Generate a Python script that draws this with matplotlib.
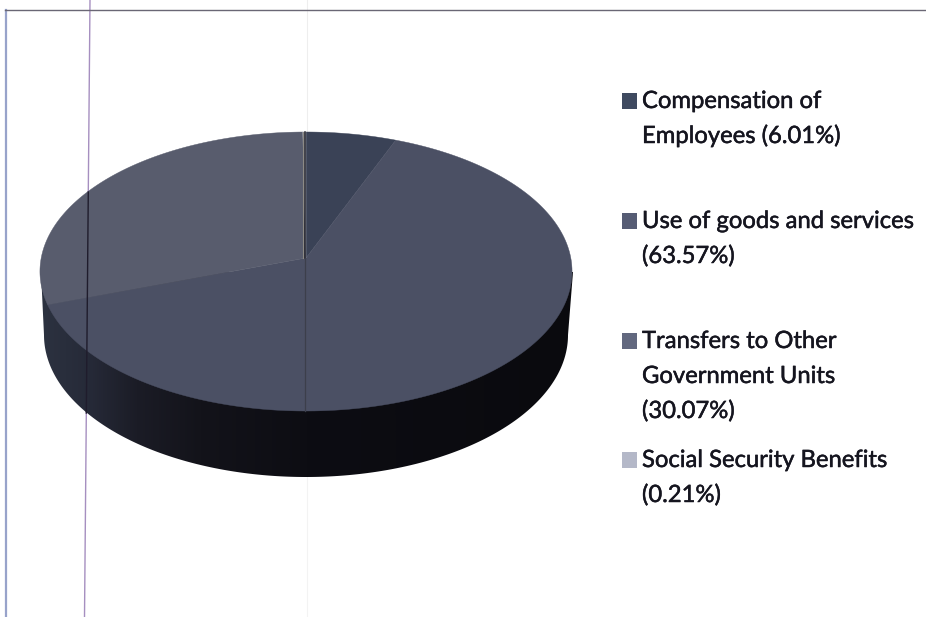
from matplotlib import pyplot as plt
import matplotlib.patches as patches
from matplotlib.colors import LinearSegmentedColormap
import matplotlib.patheffects as pe
import numpy as np

names = ["Compensation of\nEmployees", "Use of goods and services\n", "Transfers to Other\nGovernment Units\n", "Social Security Benefits\n"]
shares = [6.01, 63.57, 30.07, 0.21]
top_colors = ["#3a4256", "#4b5064", "#585c6d", "#a9adbb"]
legend_colors = ["#3f4a60", "#565c74", "#62687f", "#b4b8c8"]
legend_baselines = [108, 228, 348, 467]

plt.rcParams.update({'font.family': ['Lato', 'DejaVu Sans'], 'font.size': 17.15})

# pie geometry in pixels, tilted with a small perspective term
cx, cy = 306, 258
rx, ry = 264.8, 138.2
persp = 0.0968

# lower rim of the cylinder
low_cy = 335
low_rx, low_ry = 262, 142


def project(theta):
    # theta runs clockwise from twelve o'clock
    x = np.sin(theta)
    y = np.cos(theta)
    w = 1 + persp * y
    return cx + rx * x / w, cy - ry * y / w


def rule_x(y):
    # the long stray rule leans slightly to the left
    return 90 - 5.5 * y / 617


fig = plt.figure(figsize=(9.26, 6.17), dpi=100)
ax = fig.add_axes([0, 0, 1, 1])

edges = np.radians(np.concatenate([[0], np.cumsum(shares)]) / sum(shares) * 360)

# faint rules that sit behind the pie
ax.plot([90, 84.5], [0, 617], color="#a68fc0", linewidth=1.0, zorder=1)
ax.plot([307, 307], [0, 132], color="#eeeeee", linewidth=0.8, zorder=0)
ax.plot([307, 307], [477, 617], color="#f3f3f3", linewidth=0.8, zorder=0)

# rim, a horizontal gradient clipped to the cylinder wall
rim_cmap = LinearSegmentedColormap.from_list("rim", [
    (0.0, "#2c3240"), (0.09, "#262a38"), (0.18, "#1b1c26"),
    (0.3, "#13131a"), (0.5, "#0d0d13"), (1.0, "#0a0a0e")])
low_t = np.linspace(0, np.pi, 300)
low_x = cx + low_rx * np.cos(low_t)
low_y = low_cy + low_ry * np.sin(low_t)
wall = np.column_stack([np.r_[573, low_x, 41], np.r_[272, low_y, 272]])
wall_patch = patches.Polygon(wall, closed=True, transform=ax.transData, facecolor="none", edgecolor="none")
ax.add_patch(wall_patch)
im = ax.imshow(np.linspace(0, 1, 512).reshape(1, -1), extent=[41, 573, 480, 270],
               cmap=rim_cmap, aspect="auto", zorder=2)
im.set_clip_path(wall_patch)

# top faces
for i in range(len(shares)):
    ang = np.linspace(edges[i], edges[i + 1], 200)
    sx, sy = project(ang)
    pts = np.column_stack([np.r_[cx, sx], np.r_[cy, sy]])
    ax.add_patch(patches.Polygon(pts, closed=True, facecolor=top_colors[i], edgecolor=top_colors[i],
                                 linewidth=0.3, zorder=3))

# frame and the rules that show through the pie
ax.plot([6, 6], [10, 617], color="#98a3ca", linewidth=1.6, zorder=4)
ax.plot([5, 926], [9.5, 9.5], color="#6a6775", linewidth=1.0, zorder=4)
ax.plot([rule_x(192), rule_x(413)], [192, 413], color="#1f1c2c", linewidth=1.0, zorder=4)
ax.plot([303.2, 303.2], [132, 258], color="#8c8a85", linewidth=0.8, zorder=4)
ax.plot([304.5, 304.5], [132, 258], color="#24242c", linewidth=1.1, zorder=4)
ax.plot([304.5, 304.5], [258, 411], color="#3c3f4b", linewidth=0.9, zorder=4)

# legend
for i in range(len(names)):
    ax.add_patch(patches.Rectangle((622, legend_baselines[i] - 15), 15, 15.5, facecolor=legend_colors[i],
                                   edgecolor="none", zorder=4))
    label = "{0} ({1:.2f}%)".format(names[i], shares[i]).replace("\n (", "\n(")
    for j, line in enumerate(label.split("\n")):
        ax.text(642, legend_baselines[i] + j * 35, line, color="#15151f", va="baseline", ha="left", zorder=5,
                path_effects=[pe.withStroke(linewidth=0.35, foreground="#15151f")])

ax.set_xlim(0, 926)
ax.set_ylim(617, 0)
ax.axis("off")

fig.savefig("out.png", dpi=100)
